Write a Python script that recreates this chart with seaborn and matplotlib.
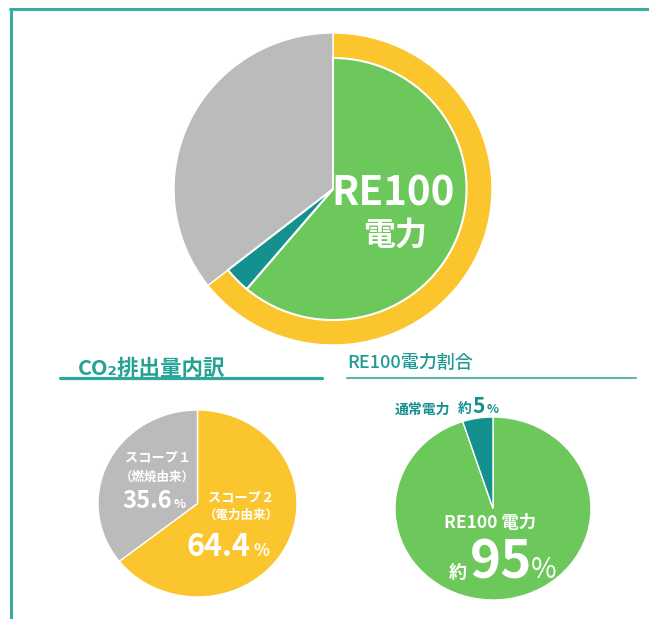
import matplotlib
matplotlib.use("Agg")
import matplotlib.pyplot as plt
from matplotlib.lines import Line2D
import seaborn as sns

# data
scope_labels = ["スコープ２", "スコープ１"]
co2_share = [64.4, 35.6]
re100_labels = ["RE100電力", "通常電力"]
re100_share = [95, 5]

green = "#6cc85b"
yellow = "#fbc62d"
gray = "#bbbbbb"
teal = "#14918f"
title_teal = "#23a394"

sns.set_theme(style="white")
plt.rcParams["font.family"] = ["Noto Sans CJK JP", "DejaVu Sans"]

W, H = 649, 619
fig = plt.figure(figsize=(W / 100, H / 100), dpi=100)
fig.patch.set_facecolor("white")


def px_axes(x0, y0, x1, y1):
    # axes from pixel box (top-left origin)
    ax = fig.add_axes([x0 / W, 1 - y1 / H, (x1 - x0) / W, (y1 - y0) / H])
    return ax


def finish(ax):
    ax.set_xlim(-1, 1)
    ax.set_ylim(-1, 1)
    ax.set_aspect("auto")
    ax.axis("off")


# ---- top combined pie
ax = px_axes(174, 33, 492, 345)
ax.pie(co2_share, colors=[yellow, gray], startangle=90, counterclock=False,
       radius=1, wedgeprops={"edgecolor": "white", "linewidth": 1, "clip_on": False})
inner = [co2_share[0] * re100_share[0] / 100, co2_share[0] * re100_share[1] / 100, co2_share[1]]
wedges, _ = ax.pie(inner, colors=[green, teal, gray], startangle=90, counterclock=False,
                   radius=0.84, wedgeprops={"edgecolor": "white", "linewidth": 1.5})
wedges[2].set_visible(False)
finish(ax)
ax.text(0.38, -0.03, "RE100", color="white", fontsize=29, fontweight="bold",
        ha="center", va="center")
ax.text(0.39, -0.30, "電力", color="white", fontsize=23, fontweight="bold",
        ha="center", va="center")

# ---- section titles
fig.text(78 / W, 1 - 375 / H, "CO₂排出量内訳", color=title_teal, fontsize=15.5,
         fontweight="bold", ha="left", va="baseline")
fig.add_artist(Line2D([60 / W, 322 / W], [1 - 378 / H, 1 - 378 / H], color="#2fa89b",
                      lw=2.3, transform=fig.transFigure))
fig.text(347 / W, 1 - 368 / H, "RE100電力割合", color="#1f9a94", fontsize=13,
         fontweight="medium", ha="left", va="baseline")
fig.add_artist(Line2D([347 / W, 636 / W], [1 - 378 / H, 1 - 378 / H], color="#5db6ad",
                      lw=1.5, transform=fig.transFigure))

# ---- CO2 breakdown pie
ax = px_axes(98, 410, 297, 597)
ax.pie(co2_share, colors=[yellow, gray], startangle=90, counterclock=False,
       wedgeprops={"edgecolor": "white", "linewidth": 1, "clip_on": False})
finish(ax)
ax.text(-0.40, 0.49, scope_labels[1], color="white", fontsize=9.5, fontweight="bold",
        ha="center", va="center")
ax.text(-0.40, 0.28, "（燃焼由来）", color="white", fontsize=9, fontweight="bold",
        ha="center", va="center")
ax.text(-0.76, -0.05, f"{co2_share[1]}", color="white", fontsize=17, fontweight="bold",
        ha="left", va="baseline")
ax.text(-0.24, -0.05, "%", color="white", fontsize=9, fontweight="bold",
        ha="left", va="baseline")
ax.text(0.44, 0.07, scope_labels[0], color="white", fontsize=9.5, fontweight="bold",
        ha="center", va="center")
ax.text(0.44, -0.13, "（電力由来）", color="white", fontsize=9, fontweight="bold",
        ha="center", va="center")
ax.text(-0.11, -0.56, f"{co2_share[0]}", color="white", fontsize=22, fontweight="bold",
        ha="left", va="baseline")
ax.text(0.56, -0.56, "%", color="white", fontsize=12, fontweight="bold",
        ha="left", va="baseline")

# ---- RE100 share pie
ax = px_axes(395, 417, 591, 600)
ax.pie(re100_share, colors=[green, teal], startangle=90, counterclock=False,
       wedgeprops={"edgecolor": "white", "linewidth": 1, "clip_on": False})
finish(ax)
ax.text(-1.0, 1.04, re100_labels[1], color=teal, fontsize=10, fontweight="bold",
        ha="left", va="baseline")
ax.text(-0.36, 1.04, "約", color=teal, fontsize=10, fontweight="bold",
        ha="left", va="baseline")
ax.text(-0.21, 1.04, f"{re100_share[1]}", color=teal, fontsize=15, fontweight="bold",
        ha="left", va="baseline")
ax.text(-0.07, 1.04, "%", color=teal, fontsize=9, fontweight="bold",
        ha="left", va="baseline")
ax.text(-0.03, -0.16, "RE100 電力", color="white", fontsize=12.5, fontweight="bold",
        ha="center", va="center")
ax.text(-0.45, -0.76, "約", color="white", fontsize=13, fontweight="bold",
        ha="left", va="baseline")
ax.text(-0.24, -0.76, f"{re100_share[0]}", color="white", fontsize=38, fontweight="bold",
        ha="left", va="baseline")
ax.text(0.39, -0.76, "%", color="white", fontsize=20,
        ha="left", va="baseline")

# ---- frame
frame_c = "#3aab9e"
fig.add_artist(Line2D([10 / W, 1], [1 - 8.5 / H, 1 - 8.5 / H], color=frame_c, lw=2.2,
                      transform=fig.transFigure))
fig.add_artist(Line2D([10.5 / W, 10.5 / W], [0, 1 - 8.5 / H], color=frame_c, lw=2.2,
                      transform=fig.transFigure))

fig.savefig("out.png", dpi=100, facecolor="white")
